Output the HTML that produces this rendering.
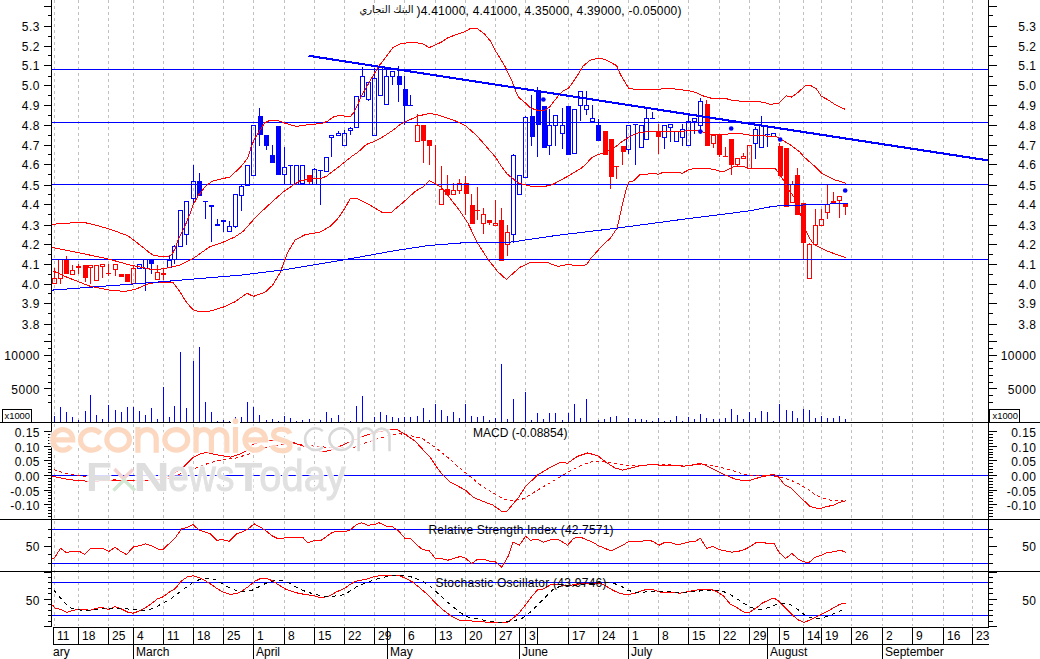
<!DOCTYPE html>
<html><head><meta charset="utf-8"><title>chart</title>
<style>
html,body{margin:0;padding:0;background:#fff;}
svg{display:block;font-family:"Liberation Sans",sans-serif;}
</style></head>
<body>
<svg width="1040" height="659" viewBox="0 0 1040 659" shape-rendering="crispEdges">
<rect x="0" y="0" width="1040" height="659" fill="#fff"/>
<g stroke="#c0c0c0" stroke-width="1" stroke-dasharray="3 3.06">
<line x1="54.5" y1="0" x2="54.5" y2="626"/>
<line x1="78.5" y1="0" x2="78.5" y2="626"/>
<line x1="108.5" y1="0" x2="108.5" y2="626"/>
<line x1="133.5" y1="0" x2="133.5" y2="626"/>
<line x1="163.5" y1="0" x2="163.5" y2="626"/>
<line x1="193.5" y1="0" x2="193.5" y2="626"/>
<line x1="223.5" y1="0" x2="223.5" y2="626"/>
<line x1="253.5" y1="0" x2="253.5" y2="626"/>
<line x1="284.5" y1="0" x2="284.5" y2="626"/>
<line x1="314.5" y1="0" x2="314.5" y2="626"/>
<line x1="344.5" y1="0" x2="344.5" y2="626"/>
<line x1="374.5" y1="0" x2="374.5" y2="626"/>
<line x1="404.5" y1="0" x2="404.5" y2="626"/>
<line x1="435.5" y1="0" x2="435.5" y2="626"/>
<line x1="465.5" y1="0" x2="465.5" y2="626"/>
<line x1="495.5" y1="0" x2="495.5" y2="626"/>
<line x1="525.5" y1="0" x2="525.5" y2="626"/>
<line x1="568.5" y1="0" x2="568.5" y2="626"/>
<line x1="598.5" y1="0" x2="598.5" y2="626"/>
<line x1="628.5" y1="0" x2="628.5" y2="626"/>
<line x1="658.5" y1="0" x2="658.5" y2="626"/>
<line x1="688.5" y1="0" x2="688.5" y2="626"/>
<line x1="719.5" y1="0" x2="719.5" y2="626"/>
<line x1="749.5" y1="0" x2="749.5" y2="626"/>
<line x1="779.5" y1="0" x2="779.5" y2="626"/>
<line x1="803.5" y1="0" x2="803.5" y2="626"/>
<line x1="821.5" y1="0" x2="821.5" y2="626"/>
<line x1="851.5" y1="0" x2="851.5" y2="626"/>
<line x1="882.5" y1="0" x2="882.5" y2="626"/>
<line x1="912.5" y1="0" x2="912.5" y2="626"/>
<line x1="943.5" y1="0" x2="943.5" y2="626"/>
<line x1="972.5" y1="0" x2="972.5" y2="626"/>
</g>
<rect x="54" y="416" width="1" height="6" fill="#0000ff"/>
<rect x="60" y="407" width="1" height="15" fill="#0000ff"/>
<rect x="66" y="412" width="1" height="10" fill="#0000ff"/>
<rect x="72" y="417" width="1" height="5" fill="#0000ff"/>
<rect x="78" y="420" width="1" height="2" fill="#0000ff"/>
<rect x="85" y="411" width="1" height="11" fill="#0000ff"/>
<rect x="90" y="395" width="1" height="27" fill="#0000ff"/>
<rect x="96" y="415" width="1" height="7" fill="#0000ff"/>
<rect x="102" y="419" width="1" height="3" fill="#0000ff"/>
<rect x="108" y="405" width="1" height="17" fill="#0000ff"/>
<rect x="115" y="410" width="1" height="12" fill="#0000ff"/>
<rect x="121" y="412" width="1" height="10" fill="#0000ff"/>
<rect x="127" y="407" width="1" height="15" fill="#0000ff"/>
<rect x="133" y="407" width="1" height="15" fill="#0000ff"/>
<rect x="139" y="411" width="1" height="11" fill="#0000ff"/>
<rect x="145" y="415" width="1" height="7" fill="#0000ff"/>
<rect x="151" y="408" width="1" height="14" fill="#0000ff"/>
<rect x="157" y="419" width="1" height="3" fill="#0000ff"/>
<rect x="163" y="387" width="1" height="35" fill="#0000ff"/>
<rect x="169" y="417" width="1" height="5" fill="#0000ff"/>
<rect x="174" y="406" width="1" height="16" fill="#0000ff"/>
<rect x="180" y="352" width="1" height="70" fill="#0000ff"/>
<rect x="186" y="408" width="1" height="14" fill="#0000ff"/>
<rect x="193" y="361" width="1" height="61" fill="#0000ff"/>
<rect x="199" y="347" width="1" height="75" fill="#0000ff"/>
<rect x="205" y="402" width="1" height="20" fill="#0000ff"/>
<rect x="211" y="412" width="1" height="10" fill="#0000ff"/>
<rect x="217" y="421" width="1" height="1" fill="#0000ff"/>
<rect x="223" y="420" width="1" height="2" fill="#0000ff"/>
<rect x="229" y="421" width="1" height="1" fill="#0000ff"/>
<rect x="235" y="417" width="1" height="5" fill="#0000ff"/>
<rect x="241" y="417" width="1" height="5" fill="#0000ff"/>
<rect x="247" y="402" width="1" height="20" fill="#0000ff"/>
<rect x="253" y="407" width="1" height="15" fill="#0000ff"/>
<rect x="259" y="415" width="1" height="7" fill="#0000ff"/>
<rect x="266" y="420" width="1" height="2" fill="#0000ff"/>
<rect x="272" y="419" width="1" height="3" fill="#0000ff"/>
<rect x="278" y="421" width="1" height="1" fill="#0000ff"/>
<rect x="284" y="416" width="1" height="6" fill="#0000ff"/>
<rect x="290" y="418" width="1" height="4" fill="#0000ff"/>
<rect x="296" y="421" width="1" height="1" fill="#0000ff"/>
<rect x="302" y="420" width="1" height="2" fill="#0000ff"/>
<rect x="309" y="419" width="1" height="3" fill="#0000ff"/>
<rect x="320" y="420" width="1" height="2" fill="#0000ff"/>
<rect x="326" y="412" width="1" height="10" fill="#0000ff"/>
<rect x="331" y="418" width="1" height="4" fill="#0000ff"/>
<rect x="338" y="415" width="1" height="7" fill="#0000ff"/>
<rect x="350" y="421" width="1" height="1" fill="#0000ff"/>
<rect x="356" y="406" width="1" height="16" fill="#0000ff"/>
<rect x="362" y="396" width="1" height="26" fill="#0000ff"/>
<rect x="374" y="417" width="1" height="5" fill="#0000ff"/>
<rect x="380" y="412" width="1" height="10" fill="#0000ff"/>
<rect x="386" y="415" width="1" height="7" fill="#0000ff"/>
<rect x="392" y="417" width="1" height="5" fill="#0000ff"/>
<rect x="398" y="418" width="1" height="4" fill="#0000ff"/>
<rect x="404" y="417" width="1" height="5" fill="#0000ff"/>
<rect x="410" y="417" width="1" height="5" fill="#0000ff"/>
<rect x="417" y="416" width="1" height="6" fill="#0000ff"/>
<rect x="423" y="408" width="1" height="14" fill="#0000ff"/>
<rect x="429" y="420" width="1" height="2" fill="#0000ff"/>
<rect x="435" y="404" width="1" height="18" fill="#0000ff"/>
<rect x="441" y="410" width="1" height="12" fill="#0000ff"/>
<rect x="447" y="416" width="1" height="6" fill="#0000ff"/>
<rect x="453" y="412" width="1" height="10" fill="#0000ff"/>
<rect x="459" y="418" width="1" height="4" fill="#0000ff"/>
<rect x="465" y="404" width="1" height="18" fill="#0000ff"/>
<rect x="471" y="416" width="1" height="6" fill="#0000ff"/>
<rect x="477" y="417" width="1" height="5" fill="#0000ff"/>
<rect x="483" y="416" width="1" height="6" fill="#0000ff"/>
<rect x="489" y="420" width="1" height="2" fill="#0000ff"/>
<rect x="495" y="418" width="1" height="4" fill="#0000ff"/>
<rect x="501" y="364" width="1" height="58" fill="#0000ff"/>
<rect x="507" y="419" width="1" height="3" fill="#0000ff"/>
<rect x="513" y="399" width="1" height="23" fill="#0000ff"/>
<rect x="525" y="392" width="1" height="30" fill="#0000ff"/>
<rect x="531" y="420" width="1" height="2" fill="#0000ff"/>
<rect x="537" y="413" width="1" height="9" fill="#0000ff"/>
<rect x="543" y="419" width="1" height="3" fill="#0000ff"/>
<rect x="549" y="413" width="1" height="9" fill="#0000ff"/>
<rect x="555" y="413" width="1" height="9" fill="#0000ff"/>
<rect x="562" y="420" width="1" height="2" fill="#0000ff"/>
<rect x="568" y="413" width="1" height="9" fill="#0000ff"/>
<rect x="574" y="404" width="1" height="18" fill="#0000ff"/>
<rect x="580" y="418" width="1" height="4" fill="#0000ff"/>
<rect x="586" y="399" width="1" height="23" fill="#0000ff"/>
<rect x="598" y="420" width="1" height="2" fill="#0000ff"/>
<rect x="604" y="419" width="1" height="3" fill="#0000ff"/>
<rect x="610" y="417" width="1" height="5" fill="#0000ff"/>
<rect x="616" y="416" width="1" height="6" fill="#0000ff"/>
<rect x="628" y="418" width="1" height="4" fill="#0000ff"/>
<rect x="635" y="419" width="1" height="3" fill="#0000ff"/>
<rect x="641" y="419" width="1" height="3" fill="#0000ff"/>
<rect x="646" y="420" width="1" height="2" fill="#0000ff"/>
<rect x="652" y="421" width="1" height="1" fill="#0000ff"/>
<rect x="658" y="418" width="1" height="4" fill="#0000ff"/>
<rect x="664" y="421" width="1" height="1" fill="#0000ff"/>
<rect x="670" y="420" width="1" height="2" fill="#0000ff"/>
<rect x="676" y="416" width="1" height="6" fill="#0000ff"/>
<rect x="682" y="421" width="1" height="1" fill="#0000ff"/>
<rect x="688" y="417" width="1" height="5" fill="#0000ff"/>
<rect x="694" y="419" width="1" height="3" fill="#0000ff"/>
<rect x="700" y="414" width="1" height="8" fill="#0000ff"/>
<rect x="706" y="418" width="1" height="4" fill="#0000ff"/>
<rect x="713" y="419" width="1" height="3" fill="#0000ff"/>
<rect x="719" y="419" width="1" height="3" fill="#0000ff"/>
<rect x="725" y="418" width="1" height="4" fill="#0000ff"/>
<rect x="731" y="409" width="1" height="13" fill="#0000ff"/>
<rect x="737" y="415" width="1" height="7" fill="#0000ff"/>
<rect x="743" y="419" width="1" height="3" fill="#0000ff"/>
<rect x="749" y="412" width="1" height="10" fill="#0000ff"/>
<rect x="755" y="418" width="1" height="4" fill="#0000ff"/>
<rect x="761" y="411" width="1" height="11" fill="#0000ff"/>
<rect x="767" y="412" width="1" height="10" fill="#0000ff"/>
<rect x="773" y="421" width="1" height="1" fill="#0000ff"/>
<rect x="779" y="404" width="1" height="18" fill="#0000ff"/>
<rect x="786" y="410" width="1" height="12" fill="#0000ff"/>
<rect x="792" y="411" width="1" height="11" fill="#0000ff"/>
<rect x="797" y="418" width="1" height="4" fill="#0000ff"/>
<rect x="803" y="409" width="1" height="13" fill="#0000ff"/>
<rect x="809" y="410" width="1" height="12" fill="#0000ff"/>
<rect x="815" y="418" width="1" height="4" fill="#0000ff"/>
<rect x="821" y="416" width="1" height="6" fill="#0000ff"/>
<rect x="827" y="418" width="1" height="4" fill="#0000ff"/>
<rect x="833" y="418" width="1" height="4" fill="#0000ff"/>
<rect x="839" y="416" width="1" height="6" fill="#0000ff"/>
<rect x="845" y="419" width="1" height="3" fill="#0000ff"/>
<rect x="54" y="268" width="1" height="11" fill="#ff0000"/>
<rect x="52.5" y="278.5" width="4" height="5" fill="none" stroke="#ff0000" stroke-width="1"/>
<rect x="60" y="278" width="1" height="6" fill="#ff0000"/>
<rect x="58.5" y="259.5" width="4" height="19" fill="none" stroke="#ff0000" stroke-width="1"/>
<rect x="66" y="256" width="1" height="18" fill="#ff0000"/>
<rect x="64" y="260" width="5" height="14" fill="#ff0000"/>
<rect x="72" y="265" width="1" height="6" fill="#ff0000"/>
<rect x="70.5" y="270.5" width="4" height="4" fill="none" stroke="#ff0000" stroke-width="1"/>
<rect x="78" y="264" width="1" height="10" fill="#ff0000"/>
<rect x="76" y="266" width="5" height="2" fill="#ff0000"/>
<rect x="85" y="265" width="1" height="17" fill="#ff0000"/>
<rect x="83" y="265" width="5" height="13" fill="#ff0000"/>
<rect x="90" y="267" width="1" height="17" fill="#ff0000"/>
<rect x="88.5" y="265.5" width="4" height="2" fill="none" stroke="#ff0000" stroke-width="1"/>
<rect x="94.5" y="265.5" width="4" height="15" fill="none" stroke="#ff0000" stroke-width="1"/>
<rect x="102" y="266" width="1" height="12" fill="#ff0000"/>
<rect x="100.5" y="264.5" width="4" height="2" fill="none" stroke="#ff0000" stroke-width="1"/>
<rect x="108" y="264" width="1" height="12" fill="#ff0000"/>
<rect x="106" y="273" width="5" height="1" fill="#ff0000"/>
<rect x="115" y="269" width="1" height="7" fill="#ff0000"/>
<rect x="113.5" y="264.5" width="4" height="5" fill="none" stroke="#ff0000" stroke-width="1"/>
<rect x="121" y="274" width="1" height="3" fill="#ff0000"/>
<rect x="119" y="274" width="5" height="3" fill="#ff0000"/>
<rect x="127" y="274" width="1" height="8" fill="#ff0000"/>
<rect x="125" y="274" width="5" height="8" fill="#ff0000"/>
<rect x="133" y="265" width="1" height="4" fill="#ff0000"/>
<rect x="131.5" y="268.5" width="4" height="15" fill="none" stroke="#ff0000" stroke-width="1"/>
<rect x="137.5" y="264.5" width="4" height="4" fill="none" stroke="#0000ff" stroke-width="1"/>
<rect x="145" y="268" width="1" height="23" fill="#0000ff"/>
<rect x="143.5" y="259.5" width="4" height="9" fill="none" stroke="#0000ff" stroke-width="1"/>
<rect x="151" y="260" width="1" height="14" fill="#0000ff"/>
<rect x="149" y="260" width="5" height="4" fill="#0000ff"/>
<rect x="157" y="265" width="1" height="8" fill="#ff0000"/>
<rect x="155.5" y="272.5" width="4" height="7" fill="none" stroke="#ff0000" stroke-width="1"/>
<rect x="163" y="268" width="1" height="12" fill="#ff0000"/>
<rect x="161" y="273" width="5" height="2" fill="#ff0000"/>
<rect x="169" y="256" width="1" height="5" fill="#0000ff"/>
<rect x="167.5" y="260.5" width="4" height="7" fill="none" stroke="#0000ff" stroke-width="1"/>
<rect x="174" y="245" width="1" height="2" fill="#0000ff"/>
<rect x="174" y="259" width="1" height="5" fill="#0000ff"/>
<rect x="172.5" y="246.5" width="4" height="13" fill="none" stroke="#0000ff" stroke-width="1"/>
<rect x="178.5" y="210.5" width="4" height="36" fill="none" stroke="#0000ff" stroke-width="1"/>
<rect x="186" y="234" width="1" height="11" fill="#0000ff"/>
<rect x="184.5" y="201.5" width="4" height="33" fill="none" stroke="#0000ff" stroke-width="1"/>
<rect x="193" y="165" width="1" height="17" fill="#0000ff"/>
<rect x="193" y="198" width="1" height="7" fill="#0000ff"/>
<rect x="191.5" y="181.5" width="4" height="17" fill="none" stroke="#0000ff" stroke-width="1"/>
<rect x="199" y="173" width="1" height="23" fill="#0000ff"/>
<rect x="197" y="181" width="5" height="15" fill="#0000ff"/>
<rect x="205" y="201" width="1" height="18" fill="#0000ff"/>
<rect x="203" y="201" width="5" height="1" fill="#0000ff"/>
<rect x="211" y="205" width="1" height="37" fill="#0000ff"/>
<rect x="209" y="205" width="5" height="2" fill="#0000ff"/>
<rect x="217" y="219" width="1" height="7" fill="#0000ff"/>
<rect x="215" y="224" width="5" height="2" fill="#0000ff"/>
<rect x="223" y="220" width="1" height="12" fill="#0000ff"/>
<rect x="221" y="220" width="5" height="2" fill="#0000ff"/>
<rect x="229" y="221" width="1" height="6" fill="#0000ff"/>
<rect x="227.5" y="226.5" width="4" height="5" fill="none" stroke="#0000ff" stroke-width="1"/>
<rect x="235" y="226" width="1" height="2" fill="#0000ff"/>
<rect x="233.5" y="194.5" width="4" height="32" fill="none" stroke="#0000ff" stroke-width="1"/>
<rect x="241" y="184" width="1" height="3" fill="#0000ff"/>
<rect x="241" y="195" width="1" height="16" fill="#0000ff"/>
<rect x="239.5" y="186.5" width="4" height="9" fill="none" stroke="#0000ff" stroke-width="1"/>
<rect x="245.5" y="165.5" width="4" height="20" fill="none" stroke="#0000ff" stroke-width="1"/>
<rect x="251.5" y="125.5" width="4" height="50" fill="none" stroke="#0000ff" stroke-width="1"/>
<rect x="259" y="108" width="1" height="38" fill="#0000ff"/>
<rect x="258" y="116" width="5" height="19" fill="#0000ff"/>
<rect x="266" y="135" width="1" height="15" fill="#0000ff"/>
<rect x="264" y="135" width="5" height="11" fill="#0000ff"/>
<rect x="272" y="145" width="1" height="18" fill="#0000ff"/>
<rect x="270" y="155" width="5" height="8" fill="#0000ff"/>
<rect x="278" y="126" width="1" height="49" fill="#0000ff"/>
<rect x="276" y="126" width="5" height="49" fill="#0000ff"/>
<rect x="284" y="147" width="1" height="21" fill="#0000ff"/>
<rect x="284" y="174" width="1" height="11" fill="#0000ff"/>
<rect x="282.5" y="167.5" width="4" height="7" fill="none" stroke="#0000ff" stroke-width="1"/>
<rect x="290" y="165" width="1" height="20" fill="#0000ff"/>
<rect x="288" y="165" width="5" height="1" fill="#0000ff"/>
<rect x="294.5" y="165.5" width="4" height="19" fill="none" stroke="#0000ff" stroke-width="1"/>
<rect x="300.5" y="165.5" width="4" height="18" fill="none" stroke="#0000ff" stroke-width="1"/>
<rect x="309" y="175" width="1" height="10" fill="#ff0000"/>
<rect x="307" y="175" width="5" height="7" fill="#ff0000"/>
<rect x="314" y="168" width="1" height="2" fill="#0000ff"/>
<rect x="312.5" y="169.5" width="4" height="15" fill="none" stroke="#0000ff" stroke-width="1"/>
<rect x="320" y="170" width="1" height="35" fill="#0000ff"/>
<rect x="318" y="170" width="5" height="1" fill="#0000ff"/>
<rect x="324.5" y="157.5" width="4" height="14" fill="none" stroke="#0000ff" stroke-width="1"/>
<rect x="331" y="137" width="1" height="20" fill="#0000ff"/>
<rect x="329.5" y="135.5" width="4" height="2" fill="none" stroke="#0000ff" stroke-width="1"/>
<rect x="338" y="131" width="1" height="3" fill="#0000ff"/>
<rect x="336.5" y="133.5" width="4" height="2" fill="none" stroke="#0000ff" stroke-width="1"/>
<rect x="344" y="130" width="1" height="4" fill="#0000ff"/>
<rect x="342.5" y="133.5" width="4" height="12" fill="none" stroke="#0000ff" stroke-width="1"/>
<rect x="350" y="127" width="1" height="2" fill="#0000ff"/>
<rect x="350" y="130" width="1" height="5" fill="#0000ff"/>
<rect x="348.5" y="128.5" width="4" height="2" fill="none" stroke="#0000ff" stroke-width="1"/>
<rect x="354.5" y="96.5" width="4" height="31" fill="none" stroke="#0000ff" stroke-width="1"/>
<rect x="362" y="67" width="1" height="10" fill="#0000ff"/>
<rect x="360.5" y="76.5" width="4" height="20" fill="none" stroke="#0000ff" stroke-width="1"/>
<rect x="368" y="99" width="1" height="2" fill="#0000ff"/>
<rect x="366.5" y="82.5" width="4" height="17" fill="none" stroke="#0000ff" stroke-width="1"/>
<rect x="374" y="68" width="1" height="11" fill="#0000ff"/>
<rect x="372.5" y="78.5" width="4" height="57" fill="none" stroke="#0000ff" stroke-width="1"/>
<rect x="378.5" y="67.5" width="4" height="28" fill="none" stroke="#0000ff" stroke-width="1"/>
<rect x="386" y="68" width="1" height="9" fill="#0000ff"/>
<rect x="384.5" y="76.5" width="4" height="28" fill="none" stroke="#0000ff" stroke-width="1"/>
<rect x="392" y="76" width="1" height="9" fill="#0000ff"/>
<rect x="390.5" y="71.5" width="4" height="5" fill="none" stroke="#0000ff" stroke-width="1"/>
<rect x="398" y="66" width="1" height="36" fill="#0000ff"/>
<rect x="397" y="76" width="5" height="9" fill="#0000ff"/>
<rect x="404" y="76" width="1" height="49" fill="#0000ff"/>
<rect x="403" y="89" width="5" height="17" fill="#0000ff"/>
<rect x="410" y="95" width="1" height="11" fill="#0000ff"/>
<rect x="408" y="105" width="5" height="1" fill="#0000ff"/>
<rect x="417" y="114" width="1" height="12" fill="#ff0000"/>
<rect x="415.5" y="125.5" width="4" height="16" fill="none" stroke="#ff0000" stroke-width="1"/>
<rect x="423" y="125" width="1" height="38" fill="#ff0000"/>
<rect x="421" y="125" width="5" height="16" fill="#ff0000"/>
<rect x="429" y="140" width="1" height="25" fill="#ff0000"/>
<rect x="427" y="140" width="5" height="6" fill="#ff0000"/>
<rect x="435" y="145" width="1" height="40" fill="#ff0000"/>
<rect x="433" y="184" width="5" height="1" fill="#ff0000"/>
<rect x="441" y="166" width="1" height="24" fill="#ff0000"/>
<rect x="439.5" y="189.5" width="4" height="15" fill="none" stroke="#ff0000" stroke-width="1"/>
<rect x="447" y="175" width="1" height="20" fill="#ff0000"/>
<rect x="445" y="189" width="5" height="6" fill="#ff0000"/>
<rect x="453" y="183" width="1" height="8" fill="#ff0000"/>
<rect x="451.5" y="190.5" width="4" height="4" fill="none" stroke="#ff0000" stroke-width="1"/>
<rect x="459" y="179" width="1" height="5" fill="#ff0000"/>
<rect x="459" y="190" width="1" height="4" fill="#ff0000"/>
<rect x="457.5" y="183.5" width="4" height="7" fill="none" stroke="#ff0000" stroke-width="1"/>
<rect x="465" y="176" width="1" height="39" fill="#ff0000"/>
<rect x="464" y="183" width="5" height="11" fill="#ff0000"/>
<rect x="471" y="194" width="1" height="30" fill="#ff0000"/>
<rect x="470" y="205" width="5" height="19" fill="#ff0000"/>
<rect x="477" y="187" width="1" height="33" fill="#ff0000"/>
<rect x="475" y="210" width="5" height="1" fill="#ff0000"/>
<rect x="483" y="208" width="1" height="7" fill="#ff0000"/>
<rect x="483" y="223" width="1" height="11" fill="#ff0000"/>
<rect x="481.5" y="214.5" width="4" height="9" fill="none" stroke="#ff0000" stroke-width="1"/>
<rect x="489" y="220" width="1" height="5" fill="#ff0000"/>
<rect x="487" y="220" width="5" height="3" fill="#ff0000"/>
<rect x="495" y="200" width="1" height="24" fill="#ff0000"/>
<rect x="493.5" y="223.5" width="4" height="2" fill="none" stroke="#ff0000" stroke-width="1"/>
<rect x="501" y="208" width="1" height="53" fill="#ff0000"/>
<rect x="499" y="220" width="5" height="41" fill="#ff0000"/>
<rect x="507" y="225" width="1" height="8" fill="#ff0000"/>
<rect x="507" y="244" width="1" height="12" fill="#ff0000"/>
<rect x="505.5" y="232.5" width="4" height="12" fill="none" stroke="#ff0000" stroke-width="1"/>
<rect x="513" y="154" width="1" height="2" fill="#0000ff"/>
<rect x="513" y="234" width="1" height="9" fill="#0000ff"/>
<rect x="511.5" y="155.5" width="4" height="79" fill="none" stroke="#0000ff" stroke-width="1"/>
<rect x="517.5" y="175.5" width="4" height="19" fill="none" stroke="#0000ff" stroke-width="1"/>
<rect x="525" y="116" width="1" height="2" fill="#0000ff"/>
<rect x="523.5" y="117.5" width="4" height="60" fill="none" stroke="#0000ff" stroke-width="1"/>
<rect x="531" y="95" width="1" height="51" fill="#0000ff"/>
<rect x="530" y="116" width="5" height="21" fill="#0000ff"/>
<rect x="537" y="87" width="1" height="70" fill="#0000ff"/>
<rect x="536" y="90" width="5" height="35" fill="#0000ff"/>
<rect x="543" y="106" width="1" height="42" fill="#0000ff"/>
<rect x="542" y="106" width="5" height="42" fill="#0000ff"/>
<rect x="549" y="109" width="1" height="17" fill="#0000ff"/>
<rect x="549" y="145" width="1" height="10" fill="#0000ff"/>
<rect x="547.5" y="125.5" width="4" height="20" fill="none" stroke="#0000ff" stroke-width="1"/>
<rect x="555" y="125" width="1" height="21" fill="#0000ff"/>
<rect x="553.5" y="115.5" width="4" height="10" fill="none" stroke="#0000ff" stroke-width="1"/>
<rect x="562" y="108" width="1" height="18" fill="#0000ff"/>
<rect x="562" y="133" width="1" height="16" fill="#0000ff"/>
<rect x="560.5" y="125.5" width="4" height="8" fill="none" stroke="#0000ff" stroke-width="1"/>
<rect x="568" y="106" width="1" height="49" fill="#0000ff"/>
<rect x="566" y="106" width="5" height="49" fill="#0000ff"/>
<rect x="572.5" y="109.5" width="4" height="44" fill="none" stroke="#0000ff" stroke-width="1"/>
<rect x="580" y="105" width="1" height="16" fill="#0000ff"/>
<rect x="578.5" y="91.5" width="4" height="14" fill="none" stroke="#0000ff" stroke-width="1"/>
<rect x="586" y="91" width="1" height="15" fill="#0000ff"/>
<rect x="586" y="109" width="1" height="6" fill="#0000ff"/>
<rect x="584.5" y="105.5" width="4" height="4" fill="none" stroke="#0000ff" stroke-width="1"/>
<rect x="592" y="105" width="1" height="14" fill="#0000ff"/>
<rect x="590.5" y="118.5" width="4" height="3" fill="none" stroke="#0000ff" stroke-width="1"/>
<rect x="598" y="119" width="1" height="22" fill="#0000ff"/>
<rect x="596" y="125" width="5" height="16" fill="#0000ff"/>
<rect x="604" y="131" width="1" height="24" fill="#ff0000"/>
<rect x="603" y="131" width="5" height="24" fill="#ff0000"/>
<rect x="610" y="139" width="1" height="50" fill="#ff0000"/>
<rect x="609" y="139" width="5" height="38" fill="#ff0000"/>
<rect x="616" y="166" width="1" height="13" fill="#ff0000"/>
<rect x="614" y="166" width="5" height="1" fill="#ff0000"/>
<rect x="622" y="146" width="1" height="19" fill="#ff0000"/>
<rect x="621" y="146" width="5" height="6" fill="#ff0000"/>
<rect x="628" y="149" width="1" height="5" fill="#0000ff"/>
<rect x="626.5" y="125.5" width="4" height="24" fill="none" stroke="#0000ff" stroke-width="1"/>
<rect x="635" y="124" width="1" height="41" fill="#0000ff"/>
<rect x="633" y="124" width="5" height="1" fill="#0000ff"/>
<rect x="639.5" y="125.5" width="4" height="22" fill="none" stroke="#0000ff" stroke-width="1"/>
<rect x="646" y="108" width="1" height="11" fill="#0000ff"/>
<rect x="644.5" y="118.5" width="4" height="21" fill="none" stroke="#0000ff" stroke-width="1"/>
<rect x="652" y="112" width="1" height="7" fill="#0000ff"/>
<rect x="650" y="118" width="5" height="1" fill="#0000ff"/>
<rect x="658" y="124" width="1" height="30" fill="#ff0000"/>
<rect x="656" y="131" width="5" height="6" fill="#ff0000"/>
<rect x="664" y="137" width="1" height="12" fill="#0000ff"/>
<rect x="662.5" y="125.5" width="4" height="12" fill="none" stroke="#0000ff" stroke-width="1"/>
<rect x="670" y="127" width="1" height="15" fill="#0000ff"/>
<rect x="668.5" y="124.5" width="4" height="3" fill="none" stroke="#0000ff" stroke-width="1"/>
<rect x="674.5" y="131.5" width="4" height="10" fill="none" stroke="#0000ff" stroke-width="1"/>
<rect x="682" y="124" width="1" height="6" fill="#0000ff"/>
<rect x="682" y="137" width="1" height="9" fill="#0000ff"/>
<rect x="680.5" y="129.5" width="4" height="8" fill="none" stroke="#0000ff" stroke-width="1"/>
<rect x="688" y="115" width="1" height="7" fill="#0000ff"/>
<rect x="686.5" y="121.5" width="4" height="24" fill="none" stroke="#0000ff" stroke-width="1"/>
<rect x="694" y="121" width="1" height="13" fill="#0000ff"/>
<rect x="692.5" y="118.5" width="4" height="3" fill="none" stroke="#0000ff" stroke-width="1"/>
<rect x="700" y="98" width="1" height="4" fill="#0000ff"/>
<rect x="700" y="125" width="1" height="5" fill="#0000ff"/>
<rect x="698.5" y="101.5" width="4" height="24" fill="none" stroke="#0000ff" stroke-width="1"/>
<rect x="706" y="100" width="1" height="46" fill="#ff0000"/>
<rect x="705" y="104" width="5" height="42" fill="#ff0000"/>
<rect x="713" y="143" width="1" height="5" fill="#ff0000"/>
<rect x="711.5" y="135.5" width="4" height="8" fill="none" stroke="#ff0000" stroke-width="1"/>
<rect x="719" y="134" width="1" height="23" fill="#ff0000"/>
<rect x="717" y="134" width="5" height="21" fill="#ff0000"/>
<rect x="725" y="147" width="1" height="10" fill="#ff0000"/>
<rect x="723" y="156" width="5" height="1" fill="#ff0000"/>
<rect x="731" y="139" width="1" height="36" fill="#ff0000"/>
<rect x="729" y="139" width="5" height="26" fill="#ff0000"/>
<rect x="737" y="164" width="1" height="3" fill="#ff0000"/>
<rect x="735.5" y="158.5" width="4" height="6" fill="none" stroke="#ff0000" stroke-width="1"/>
<rect x="743" y="153" width="1" height="4" fill="#ff0000"/>
<rect x="741.5" y="156.5" width="4" height="2" fill="none" stroke="#ff0000" stroke-width="1"/>
<rect x="747.5" y="145.5" width="4" height="23" fill="none" stroke="#ff0000" stroke-width="1"/>
<rect x="755" y="127" width="1" height="3" fill="#0000ff"/>
<rect x="755" y="143" width="1" height="16" fill="#0000ff"/>
<rect x="753.5" y="129.5" width="4" height="14" fill="none" stroke="#0000ff" stroke-width="1"/>
<rect x="761" y="116" width="1" height="10" fill="#0000ff"/>
<rect x="759.5" y="125.5" width="4" height="22" fill="none" stroke="#0000ff" stroke-width="1"/>
<rect x="767" y="127" width="1" height="20" fill="#0000ff"/>
<rect x="765" y="134" width="5" height="1" fill="#0000ff"/>
<rect x="771.5" y="133.5" width="4" height="3" fill="none" stroke="#0000ff" stroke-width="1"/>
<rect x="779" y="143" width="1" height="33" fill="#ff0000"/>
<rect x="778" y="146" width="5" height="30" fill="#ff0000"/>
<rect x="786" y="148" width="1" height="59" fill="#ff0000"/>
<rect x="784" y="148" width="5" height="59" fill="#ff0000"/>
<rect x="792" y="181" width="1" height="4" fill="#ff0000"/>
<rect x="790.5" y="184.5" width="4" height="18" fill="none" stroke="#ff0000" stroke-width="1"/>
<rect x="797" y="168" width="1" height="47" fill="#ff0000"/>
<rect x="795" y="175" width="5" height="40" fill="#ff0000"/>
<rect x="803" y="203" width="1" height="57" fill="#ff0000"/>
<rect x="801" y="203" width="5" height="40" fill="#ff0000"/>
<rect x="809" y="243" width="1" height="2" fill="#ff0000"/>
<rect x="807.5" y="244.5" width="4" height="34" fill="none" stroke="#ff0000" stroke-width="1"/>
<rect x="815" y="209" width="1" height="17" fill="#ff0000"/>
<rect x="813.5" y="225.5" width="4" height="19" fill="none" stroke="#ff0000" stroke-width="1"/>
<rect x="821" y="209" width="1" height="11" fill="#ff0000"/>
<rect x="819.5" y="219.5" width="4" height="6" fill="none" stroke="#ff0000" stroke-width="1"/>
<rect x="827" y="184" width="1" height="21" fill="#ff0000"/>
<rect x="827" y="212" width="1" height="7" fill="#ff0000"/>
<rect x="825.5" y="204.5" width="4" height="8" fill="none" stroke="#ff0000" stroke-width="1"/>
<rect x="833" y="192" width="1" height="12" fill="#ff0000"/>
<rect x="831" y="201" width="5" height="3" fill="#ff0000"/>
<rect x="839" y="200" width="1" height="18" fill="#ff0000"/>
<rect x="837.5" y="196.5" width="4" height="4" fill="none" stroke="#ff0000" stroke-width="1"/>
<rect x="845" y="203" width="1" height="12" fill="#ff0000"/>
<rect x="843" y="203" width="5" height="4" fill="#ff0000"/>
<rect x="52" y="69" width="936" height="1" fill="#0000ff"/>
<rect x="52" y="122" width="936" height="1" fill="#0000ff"/>
<rect x="52" y="184" width="936" height="1" fill="#0000ff"/>
<rect x="52" y="259" width="936" height="1" fill="#0000ff"/>
<polyline points="51.9,224.3 82.7,222.1 95.0,225.0 108.8,228.8 127.5,235.6 140.0,245.0 150.0,253.1 153.8,255.6 160.0,256.2 168.8,256.2 171.9,254.4 175.0,248.8 177.5,241.2 179.4,237.5 183.8,228.8 189.9,214.0 193.5,204.0 198.6,195.2 205.4,186.4 212.1,181.3 221.5,178.8 229.6,177.2 240.4,167.3 247.8,157.9 251.1,147.1 254.5,139.0 259.2,131.6 264.6,122.9 268.6,120.9 275.4,120.2 280.7,121.5 286.1,123.6 296.2,126.4 308.5,124.7 321.9,123.4 327.3,121.3 334.0,116.6 340.8,115.3 346.1,116.6 350.2,117.0 354.2,111.9 362.3,94.4 370.4,80.3 378.4,66.8 386.5,56.1 392.9,47.6 400.4,43.8 412.9,42.1 423.0,43.8 429.2,47.6 440.5,42.6 448.0,37.6 465.6,31.3 470.6,28.3 476.8,28.3 484.4,33.8 490.6,41.3 495.0,50.0 505.0,66.4 512.6,82.6 516.0,92.0 518.5,97.2 522.5,100.6 526.5,103.9 530.6,108.0 537.3,110.3 544.0,110.7 549.4,107.3 553.5,101.9 558.8,95.2 562.9,90.9 568.3,88.5 572.3,83.1 577.7,75.0 582.8,66.4 590.3,60.1 599.0,58.1 605.3,59.6 616.6,65.6 620.7,75.0 624.8,81.7 628.8,88.5 634.2,89.1 642.9,89.7 655.4,89.7 668.0,88.2 680.5,89.7 693.0,91.4 703.5,96.0 711.5,98.3 726.3,98.7 734.4,100.8 749.2,101.4 762.7,102.1 770.8,104.4 778.8,103.0 786.4,95.9 791.4,97.2 797.7,92.7 805.2,85.9 810.2,85.2 816.5,88.9 821.5,96.4 827.8,99.7 835.3,104.7 845.3,109.4" fill="none" stroke="#ff0000" stroke-width="1" />
<polyline points="52.5,247.5 80.0,253.0 107.5,258.8 130.0,265.0 145.0,268.0 153.8,270.0 165.0,268.5 180.0,265.0 183.8,263.0 193.3,258.4 209.4,247.0 222.9,242.3 235.0,236.9 243.0,231.5 252.5,220.8 261.9,211.3 272.7,201.2 283.4,191.8 294.2,184.4 299.6,181.0 308.5,179.2 320.6,178.6 326.6,176.1 335.4,169.4 344.8,162.0 351.5,156.6 358.3,151.9 366.3,144.5 374.4,141.4 382.5,137.1 391.9,131.0 400.0,124.7 409.4,120.0 417.5,116.2 424.2,114.6 429.6,113.3 435.0,114.3 440.5,115.7 453.0,119.9 465.2,125.4 477.3,136.2 485.4,145.6 494.8,156.3 501.5,166.4 506.9,173.8 513.6,179.2 519.0,183.3 527.1,185.3 531.1,186.2 544.6,186.5 552.7,184.5 567.7,176.3 580.3,168.8 585.3,165.0 591.5,157.8 597.8,154.5 603.0,153.2 615.2,147.1 621.9,141.7 630.0,136.3 639.4,132.6 648.8,131.6 662.3,131.6 675.8,131.6 689.2,130.7 698.6,130.7 706.7,133.0 712.1,134.7 724.2,134.7 731.7,133.3 741.1,133.7 749.2,135.1 760.0,135.5 770.8,136.4 777.5,137.1 782.9,140.5 791.1,145.4 799.2,151.4 804.6,157.5 810.0,162.2 815.4,166.9 821.4,173.0 827.5,176.3 834.2,179.7 840.9,181.5 845.6,183.3" fill="none" stroke="#ff0000" stroke-width="1" />
<polyline points="52.5,270.6 66.2,276.9 90.0,286.2 108.8,290.0 125.0,291.5 135.0,289.4 148.8,283.8 155.0,282.5 172.9,282.2 180.5,292.7 186.7,302.7 193.0,309.7 200.5,312.0 210.5,311.0 223.1,307.2 235.6,301.5 246.9,293.2 253.5,296.4 265.1,292.2 272.6,285.2 280.1,272.7 287.6,252.6 295.1,240.1 305.2,234.6 320.2,232.1 330.2,226.3 337.7,218.8 345.3,207.6 350.3,198.3 356.5,198.3 367.8,203.8 381.6,212.1 391.6,212.1 402.9,202.6 415.4,191.3 423.5,186.6 429.5,180.6 435.6,183.9 441.6,187.3 447.7,195.0 459.8,211.0 467.9,223.1 477.3,242.6 485.4,255.4 488.1,259.4 497.5,271.4 506.3,279.4 520.1,267.2 530.1,262.6 547.7,262.6 557.7,266.4 567.7,264.6 580.3,265.9 586.5,264.6 591.5,257.6 602.8,245.1 610.5,238.0 617.2,228.1 621.9,206.5 626.0,190.4 628.4,182.3 634.0,180.7 640.1,174.5 646.1,174.2 654.2,173.1 658.3,174.5 662.3,172.6 675.8,172.6 682.5,173.1 689.2,169.5 695.9,168.2 706.7,168.2 716.1,169.9 720.2,171.3 724.2,171.3 729.6,168.6 735.0,166.2 743.8,166.4 749.2,168.5 775.0,168.3 779.0,173.6 784.4,181.7 789.8,191.1 794.5,197.9 800.0,213.0 805.8,230.7 809.8,238.4 813.8,244.4 819.2,247.1 827.3,251.1 835.4,254.1 845.9,257.6" fill="none" stroke="#ff0000" stroke-width="1" />
<polyline points="51.0,290.2 150.3,282.7 240.0,275.2 285.1,269.7 345.3,259.6 390.4,251.4 428.0,245.6 465.6,242.6 504.0,242.4 512.6,241.9 555.2,235.6 617.3,228.1 680.5,219.6 720.0,214.6 750.0,210.8 773.6,206.2 780.0,205.8 815.0,204.6 847.7,203.3" fill="none" stroke="#0000ff" stroke-width="1" />
<line x1="308.5" y1="55.8" x2="988" y2="160.4" stroke="#0000ff" stroke-width="2.1"/>
<circle cx="543.4" cy="99.5" r="2.3" fill="#0000ff" shape-rendering="auto"/>
<circle cx="700.4" cy="131.6" r="2.3" fill="#0000ff" shape-rendering="auto"/>
<circle cx="731.2" cy="128.5" r="2.3" fill="#0000ff" shape-rendering="auto"/>
<circle cx="780.2" cy="139.5" r="2.3" fill="#0000ff" shape-rendering="auto"/>
<circle cx="845.2" cy="190.5" r="2.3" fill="#0000ff" shape-rendering="auto"/>
<rect x="52" y="475" width="936" height="1" fill="#0000ff"/>
<polyline points="52.5,476.3 65.0,478.8 77.6,480.6 90.1,481.3 105.2,480.8 120.2,480.8 135.2,480.8 147.8,480.1 160.3,479.6 170.0,476.0 182.9,467.6 192.9,457.6 200.4,453.8 206.7,452.5 215.4,454.6 230.5,457.1 240.5,453.8 245.5,451.3 251.8,445.0 262.0,441.0 275.0,440.0 290.0,441.3 300.0,445.0 312.6,449.5 322.6,452.0 331.4,450.0 345.0,444.0 361.4,437.0 370.2,433.8 390.3,429.3 397.8,430.0 405.3,434.5 415.3,441.3 422.8,449.5 430.4,457.6 437.9,468.8 442.9,475.1 450.4,482.1 465.4,490.1 473.0,497.1 483.0,501.4 493.0,505.1 501.8,511.4 506.8,511.4 513.1,503.9 519.3,496.4 525.6,486.3 538.1,474.6 550.0,467.6 560.0,462.6 567.6,463.1 577.6,456.3 587.6,453.0 597.6,455.6 606.4,462.6 615.2,468.1 622.7,470.1 630.2,468.1 640.3,465.8 650.3,464.6 660.3,465.1 675.3,465.1 682.9,466.3 692.9,465.1 700.4,463.3 707.9,466.3 715.4,470.1 725.5,475.1 735.5,479.3 743.0,480.6 750.5,480.1 760.6,477.1 773.1,474.3 778.1,476.3 784.4,484.6 790.6,487.6 795.6,492.6 803.8,500.6 810.1,506.4 816.3,508.1 821.4,508.1 827.6,506.4 833.9,505.1 840.2,502.1 845.7,500.9" fill="none" stroke="#ff0000" stroke-width="1" />
<polyline points="53.8,469.6 60.0,471.8 72.6,474.6 85.1,476.3 102.7,478.8 117.7,480.1 132.7,480.8 147.8,480.1 160.3,479.6 169.0,478.1 176.6,475.1 187.9,471.3 197.9,467.1 210.4,462.6 223.0,459.6 235.5,458.1 245.5,455.1 253.0,452.5 265.0,448.0 280.0,444.5 295.0,443.8 305.0,445.0 315.0,446.3 330.0,447.5 343.9,448.0 355.2,447.0 365.2,443.0 377.7,438.8 390.3,435.0 400.3,433.8 410.3,435.5 422.8,438.8 435.4,447.5 447.9,457.6 460.4,468.8 469.2,475.6 480.5,485.1 493.0,492.6 503.0,498.9 513.1,500.6 523.1,498.9 535.6,491.4 552.5,481.3 565.1,473.8 577.6,467.1 590.1,462.1 600.2,461.3 612.7,462.6 625.2,465.6 640.3,465.8 652.8,464.6 675.3,465.1 690.4,465.1 702.9,464.3 715.4,466.3 728.0,469.3 740.5,473.1 748.0,475.1 765.6,475.6 778.1,476.3 790.6,480.1 800.0,484.6 807.6,488.9 815.1,494.6 822.6,498.1 830.1,500.1 840.2,500.6 845.7,501.4" fill="none" stroke="#ff0000" stroke-width="1" stroke-dasharray="3 3" />
<rect x="52" y="529" width="936" height="1" fill="#0000ff"/>
<rect x="52" y="563" width="936" height="1" fill="#0000ff"/>
<polyline points="52.5,558.5 54.5,557.7 60.6,548.4 66.3,552.7 72.6,551.0 78.8,551.0 84.6,554.5 90.9,548.2 102.7,548.2 108.9,551.4 115.2,547.2 120.7,551.4 126.5,554.5 134.0,546.4 139.0,545.9 145.3,543.9 151.5,545.9 157.8,548.9 162.8,549.7 175.3,537.7 181.6,528.9 187.9,527.2 192.9,524.4 199.1,530.2 205.4,532.2 210.4,533.9 216.7,540.2 223.0,539.7 229.2,541.4 236.7,533.9 241.8,532.2 248.0,528.9 254.3,523.9 260.5,527.2 266.8,531.4 271.8,535.7 276.8,538.2 283.1,538.2 286.9,537.2 302.5,537.2 308.0,542.7 315.1,540.2 321.3,540.2 332.6,532.2 340.1,531.4 348.9,530.9 356.4,524.7 361.4,522.7 367.7,525.2 374.0,524.7 379.0,522.7 386.5,526.4 392.8,526.9 399.0,531.4 404.8,538.2 410.3,538.2 416.6,544.7 422.8,549.7 429.1,550.7 435.4,558.5 442.9,559.0 447.9,560.2 454.2,558.2 460.4,556.5 465.4,558.2 471.7,563.5 478.0,559.0 484.2,559.5 490.5,561.5 495.5,562.0 501.8,567.2 508.0,556.5 513.1,542.2 519.3,545.2 525.6,536.4 530.6,540.2 538.1,539.4 543.1,542.2 551.3,539.7 558.8,539.7 567.6,545.2 573.8,538.2 580.1,536.9 586.4,539.7 592.6,542.2 598.9,545.9 605.2,548.4 610.9,550.9 616.4,548.4 622.7,545.2 629.0,541.4 640.3,541.4 649.0,540.2 652.8,541.4 659.0,545.2 665.3,542.2 670.3,542.2 676.6,544.7 681.6,543.9 689.1,541.9 695.4,541.4 700.4,538.2 706.7,548.4 712.9,546.4 719.2,549.7 725.5,550.9 731.7,552.2 738.0,551.4 744.3,549.7 750.5,546.4 756.8,542.2 763.1,542.2 768.1,543.9 774.3,543.9 779.3,552.7 785.6,558.5 791.9,553.5 798.1,559.0 802.6,561.5 808.8,562.7 815.1,557.2 821.4,555.2 827.6,552.2 833.9,551.9 840.2,550.2 845.7,552.2" fill="none" stroke="#ff0000" stroke-width="1" />
<rect x="52" y="582" width="936" height="1" fill="#0000ff"/>
<rect x="52" y="615" width="936" height="1" fill="#0000ff"/>
<polyline points="52.5,605.0 55.0,608.0 61.2,609.5 67.0,612.5 72.5,610.5 77.5,609.5 85.0,609.5 90.0,610.5 96.2,608.2 102.5,607.5 108.8,609.5 115.0,606.5 121.2,608.8 127.5,612.0 133.0,613.2 138.8,611.2 145.0,608.0 151.2,603.8 157.5,598.8 163.0,596.8 168.8,592.5 175.0,588.8 181.2,581.2 187.5,576.8 193.0,575.8 198.8,577.5 205.0,580.5 211.2,584.5 217.5,588.8 223.8,592.5 230.0,594.2 236.2,593.8 242.5,590.8 248.8,586.2 255.0,581.2 261.2,578.2 266.2,578.2 272.5,580.8 278.8,585.0 285.0,588.8 291.2,591.2 297.5,593.0 305.0,594.5 313.8,595.5 321.2,598.0 328.8,596.2 336.2,592.0 343.8,588.8 350.0,584.5 355.5,581.2 365.0,579.5 373.8,576.8 381.2,575.5 390.0,575.5 398.8,575.5 405.0,578.0 412.5,582.0 420.0,588.0 427.5,594.5 435.0,602.5 442.5,609.5 451.2,616.2 458.8,620.0 465.0,620.5 475.0,621.2 485.0,622.0 495.0,622.5 507.5,622.5 513.8,617.5 520.0,612.0 526.2,603.8 532.5,595.5 537.5,590.0 542.5,589.2 551.2,584.5 557.5,584.5 565.0,585.5 572.5,585.0 580.0,583.8 590.0,583.0 600.0,583.0 606.2,586.2 612.5,590.0 618.8,593.0 625.0,594.5 633.8,593.8 640.0,591.2 647.5,589.2 653.8,590.0 660.0,592.0 670.0,592.0 680.0,593.2 690.0,591.2 700.0,589.5 711.2,589.5 717.5,592.0 723.8,596.2 730.0,603.8 737.5,608.0 743.8,612.0 750.0,612.0 756.2,608.0 762.5,603.0 768.8,600.0 773.8,598.0 778.8,601.2 785.0,607.5 791.2,613.8 797.5,619.5 803.8,622.5 810.0,620.0 816.2,617.0 822.5,613.8 828.8,610.5 835.0,607.0 840.0,604.2 845.5,603.2" fill="none" stroke="#ff0000" stroke-width="1" />
<polyline points="53.8,590.0 60.0,597.5 66.2,604.5 72.5,608.8 80.0,610.0 90.0,610.5 97.5,609.2 105.0,608.2 115.0,608.0 125.0,608.8 133.8,609.5 142.5,610.5 150.0,609.5 157.5,606.2 165.0,602.0 172.5,597.5 180.0,592.0 187.5,586.2 193.8,582.0 201.2,578.8 208.8,578.0 215.0,579.5 222.5,583.8 230.0,588.0 237.5,591.2 245.0,592.0 252.5,590.0 260.0,586.2 267.5,582.5 275.0,580.5 282.5,580.8 290.0,583.5 297.5,588.0 305.0,591.2 315.0,594.5 325.0,596.2 333.8,596.2 342.5,595.0 350.0,591.2 357.5,586.2 365.0,583.0 373.8,580.0 381.2,577.5 390.0,576.2 398.8,575.5 406.2,575.5 415.0,578.0 422.5,581.2 430.0,586.2 437.5,593.0 445.0,600.0 452.5,606.2 460.0,612.5 467.5,617.0 475.0,618.2 485.0,620.5 495.0,622.0 505.0,622.0 515.0,620.5 522.5,618.0 530.0,612.5 537.5,605.0 546.2,596.2 552.5,590.0 560.0,586.2 570.0,585.0 580.0,585.0 590.0,583.8 602.5,582.5 612.5,583.0 620.0,585.5 627.5,590.0 635.0,592.5 645.0,592.0 655.0,591.2 665.0,591.2 677.5,592.5 687.5,592.0 697.5,591.2 710.0,590.0 720.0,590.5 727.5,593.0 735.0,597.5 742.5,602.5 750.0,607.0 757.5,609.5 765.0,608.8 772.5,606.2 780.0,603.0 787.5,603.8 793.8,606.2 800.0,611.2 806.2,616.2 812.5,618.2 820.0,618.8 827.5,616.2 835.0,613.0 842.0,610.0" fill="none" stroke="#000" stroke-width="1" stroke-dasharray="4 4" />
<rect x="0" y="422" width="1040" height="1" fill="#000"/>
<rect x="0" y="519" width="1040" height="1" fill="#000"/>
<rect x="0" y="571" width="1040" height="1" fill="#000"/>
<rect x="51" y="0" width="1" height="627" fill="#000"/>
<rect x="988" y="0" width="1" height="627" fill="#000"/>
<rect x="44" y="26" width="7" height="1" fill="#000"/>
<rect x="989" y="26" width="8" height="1" fill="#000"/>
<rect x="44" y="46" width="7" height="1" fill="#000"/>
<rect x="989" y="46" width="8" height="1" fill="#000"/>
<rect x="44" y="65" width="7" height="1" fill="#000"/>
<rect x="989" y="65" width="8" height="1" fill="#000"/>
<rect x="44" y="85" width="7" height="1" fill="#000"/>
<rect x="989" y="85" width="8" height="1" fill="#000"/>
<rect x="44" y="105" width="7" height="1" fill="#000"/>
<rect x="989" y="105" width="8" height="1" fill="#000"/>
<rect x="44" y="125" width="7" height="1" fill="#000"/>
<rect x="989" y="125" width="8" height="1" fill="#000"/>
<rect x="44" y="145" width="7" height="1" fill="#000"/>
<rect x="989" y="145" width="8" height="1" fill="#000"/>
<rect x="44" y="164" width="7" height="1" fill="#000"/>
<rect x="989" y="164" width="8" height="1" fill="#000"/>
<rect x="44" y="185" width="7" height="1" fill="#000"/>
<rect x="989" y="185" width="8" height="1" fill="#000"/>
<rect x="44" y="204" width="7" height="1" fill="#000"/>
<rect x="989" y="204" width="8" height="1" fill="#000"/>
<rect x="44" y="225" width="7" height="1" fill="#000"/>
<rect x="989" y="225" width="8" height="1" fill="#000"/>
<rect x="44" y="244" width="7" height="1" fill="#000"/>
<rect x="989" y="244" width="8" height="1" fill="#000"/>
<rect x="44" y="264" width="7" height="1" fill="#000"/>
<rect x="989" y="264" width="8" height="1" fill="#000"/>
<rect x="44" y="284" width="7" height="1" fill="#000"/>
<rect x="989" y="284" width="8" height="1" fill="#000"/>
<rect x="44" y="303" width="7" height="1" fill="#000"/>
<rect x="989" y="303" width="8" height="1" fill="#000"/>
<rect x="44" y="324" width="7" height="1" fill="#000"/>
<rect x="989" y="324" width="8" height="1" fill="#000"/>
<rect x="44" y="6" width="7" height="1" fill="#000"/>
<rect x="989" y="6" width="8" height="1" fill="#000"/>
<rect x="48" y="15" width="3" height="1" fill="#000"/>
<rect x="989" y="15" width="4" height="1" fill="#000"/>
<rect x="48" y="334" width="3" height="1" fill="#000"/>
<rect x="989" y="334" width="4" height="1" fill="#000"/>
<rect x="48" y="36" width="3" height="1" fill="#000"/>
<rect x="989" y="36" width="4" height="1" fill="#000"/>
<rect x="48" y="55" width="3" height="1" fill="#000"/>
<rect x="989" y="55" width="4" height="1" fill="#000"/>
<rect x="48" y="76" width="3" height="1" fill="#000"/>
<rect x="989" y="76" width="4" height="1" fill="#000"/>
<rect x="48" y="95" width="3" height="1" fill="#000"/>
<rect x="989" y="95" width="4" height="1" fill="#000"/>
<rect x="48" y="115" width="3" height="1" fill="#000"/>
<rect x="989" y="115" width="4" height="1" fill="#000"/>
<rect x="48" y="135" width="3" height="1" fill="#000"/>
<rect x="989" y="135" width="4" height="1" fill="#000"/>
<rect x="48" y="154" width="3" height="1" fill="#000"/>
<rect x="989" y="154" width="4" height="1" fill="#000"/>
<rect x="48" y="174" width="3" height="1" fill="#000"/>
<rect x="989" y="174" width="4" height="1" fill="#000"/>
<rect x="48" y="194" width="3" height="1" fill="#000"/>
<rect x="989" y="194" width="4" height="1" fill="#000"/>
<rect x="48" y="214" width="3" height="1" fill="#000"/>
<rect x="989" y="214" width="4" height="1" fill="#000"/>
<rect x="48" y="234" width="3" height="1" fill="#000"/>
<rect x="989" y="234" width="4" height="1" fill="#000"/>
<rect x="48" y="254" width="3" height="1" fill="#000"/>
<rect x="989" y="254" width="4" height="1" fill="#000"/>
<rect x="48" y="274" width="3" height="1" fill="#000"/>
<rect x="989" y="274" width="4" height="1" fill="#000"/>
<rect x="48" y="293" width="3" height="1" fill="#000"/>
<rect x="989" y="293" width="4" height="1" fill="#000"/>
<rect x="48" y="313" width="3" height="1" fill="#000"/>
<rect x="989" y="313" width="4" height="1" fill="#000"/>
<text x="40" y="30.5" font-size="12" text-anchor="end" fill="#000" letter-spacing="0.5">5.3</text>
<text x="1036.5" y="30.5" font-size="12" text-anchor="end" fill="#000" letter-spacing="0.5">5.3</text>
<text x="40" y="50.5" font-size="12" text-anchor="end" fill="#000" letter-spacing="0.5">5.2</text>
<text x="1036.5" y="50.5" font-size="12" text-anchor="end" fill="#000" letter-spacing="0.5">5.2</text>
<text x="40" y="69.5" font-size="12" text-anchor="end" fill="#000" letter-spacing="0.5">5.1</text>
<text x="1036.5" y="69.5" font-size="12" text-anchor="end" fill="#000" letter-spacing="0.5">5.1</text>
<text x="40" y="89.5" font-size="12" text-anchor="end" fill="#000" letter-spacing="0.5">5.0</text>
<text x="1036.5" y="89.5" font-size="12" text-anchor="end" fill="#000" letter-spacing="0.5">5.0</text>
<text x="40" y="109.5" font-size="12" text-anchor="end" fill="#000" letter-spacing="0.5">4.9</text>
<text x="1036.5" y="109.5" font-size="12" text-anchor="end" fill="#000" letter-spacing="0.5">4.9</text>
<text x="40" y="129.5" font-size="12" text-anchor="end" fill="#000" letter-spacing="0.5">4.8</text>
<text x="1036.5" y="129.5" font-size="12" text-anchor="end" fill="#000" letter-spacing="0.5">4.8</text>
<text x="40" y="149.5" font-size="12" text-anchor="end" fill="#000" letter-spacing="0.5">4.7</text>
<text x="1036.5" y="149.5" font-size="12" text-anchor="end" fill="#000" letter-spacing="0.5">4.7</text>
<text x="40" y="168.5" font-size="12" text-anchor="end" fill="#000" letter-spacing="0.5">4.6</text>
<text x="1036.5" y="168.5" font-size="12" text-anchor="end" fill="#000" letter-spacing="0.5">4.6</text>
<text x="40" y="189.5" font-size="12" text-anchor="end" fill="#000" letter-spacing="0.5">4.5</text>
<text x="1036.5" y="189.5" font-size="12" text-anchor="end" fill="#000" letter-spacing="0.5">4.5</text>
<text x="40" y="208.5" font-size="12" text-anchor="end" fill="#000" letter-spacing="0.5">4.4</text>
<text x="1036.5" y="208.5" font-size="12" text-anchor="end" fill="#000" letter-spacing="0.5">4.4</text>
<text x="40" y="229.5" font-size="12" text-anchor="end" fill="#000" letter-spacing="0.5">4.3</text>
<text x="1036.5" y="229.5" font-size="12" text-anchor="end" fill="#000" letter-spacing="0.5">4.3</text>
<text x="40" y="248.5" font-size="12" text-anchor="end" fill="#000" letter-spacing="0.5">4.2</text>
<text x="1036.5" y="248.5" font-size="12" text-anchor="end" fill="#000" letter-spacing="0.5">4.2</text>
<text x="40" y="268.5" font-size="12" text-anchor="end" fill="#000" letter-spacing="0.5">4.1</text>
<text x="1036.5" y="268.5" font-size="12" text-anchor="end" fill="#000" letter-spacing="0.5">4.1</text>
<text x="40" y="288.5" font-size="12" text-anchor="end" fill="#000" letter-spacing="0.5">4.0</text>
<text x="1036.5" y="288.5" font-size="12" text-anchor="end" fill="#000" letter-spacing="0.5">4.0</text>
<text x="40" y="307.5" font-size="12" text-anchor="end" fill="#000" letter-spacing="0.5">3.9</text>
<text x="1036.5" y="307.5" font-size="12" text-anchor="end" fill="#000" letter-spacing="0.5">3.9</text>
<text x="40" y="328.5" font-size="12" text-anchor="end" fill="#000" letter-spacing="0.5">3.8</text>
<text x="1036.5" y="328.5" font-size="12" text-anchor="end" fill="#000" letter-spacing="0.5">3.8</text>
<rect x="48" y="402" width="3" height="1" fill="#000"/>
<rect x="989" y="402" width="4" height="1" fill="#000"/>
<rect x="48" y="395" width="3" height="1" fill="#000"/>
<rect x="989" y="395" width="4" height="1" fill="#000"/>
<rect x="44" y="388" width="7" height="1" fill="#000"/>
<rect x="989" y="388" width="8" height="1" fill="#000"/>
<rect x="48" y="382" width="3" height="1" fill="#000"/>
<rect x="989" y="382" width="4" height="1" fill="#000"/>
<rect x="48" y="375" width="3" height="1" fill="#000"/>
<rect x="989" y="375" width="4" height="1" fill="#000"/>
<rect x="48" y="368" width="3" height="1" fill="#000"/>
<rect x="989" y="368" width="4" height="1" fill="#000"/>
<rect x="48" y="361" width="3" height="1" fill="#000"/>
<rect x="989" y="361" width="4" height="1" fill="#000"/>
<rect x="44" y="355" width="7" height="1" fill="#000"/>
<rect x="989" y="355" width="8" height="1" fill="#000"/>
<rect x="48" y="348" width="3" height="1" fill="#000"/>
<rect x="989" y="348" width="4" height="1" fill="#000"/>
<rect x="44" y="341" width="7" height="1" fill="#000"/>
<rect x="989" y="341" width="8" height="1" fill="#000"/>
<text x="40" y="359.5" font-size="12" text-anchor="end" fill="#000" letter-spacing="0.5">10000</text>
<text x="1036.5" y="359.5" font-size="12" text-anchor="end" fill="#000" letter-spacing="0.5">10000</text>
<text x="40" y="393.5" font-size="12" text-anchor="end" fill="#000" letter-spacing="0.5">5000</text>
<text x="1036.5" y="393.5" font-size="12" text-anchor="end" fill="#000" letter-spacing="0.5">5000</text>
<rect x="2.5" y="409.5" width="29" height="13" fill="#fff" stroke="#000" stroke-width="1"/>
<text x="4.5" y="419.3" font-size="9.4" text-anchor="start" fill="#000" >x1000</text>
<rect x="989.5" y="409.5" width="30" height="13" fill="#fff" stroke="#000" stroke-width="1"/>
<text x="992.5" y="419.3" font-size="9.4" text-anchor="start" fill="#000" >x1000</text>
<rect x="48" y="516" width="3" height="1" fill="#000"/>
<rect x="989" y="516" width="4" height="1" fill="#000"/>
<rect x="48" y="513" width="3" height="1" fill="#000"/>
<rect x="989" y="513" width="4" height="1" fill="#000"/>
<rect x="48" y="510" width="3" height="1" fill="#000"/>
<rect x="989" y="510" width="4" height="1" fill="#000"/>
<rect x="48" y="507" width="3" height="1" fill="#000"/>
<rect x="989" y="507" width="4" height="1" fill="#000"/>
<rect x="44" y="504" width="7" height="1" fill="#000"/>
<rect x="989" y="504" width="8" height="1" fill="#000"/>
<rect x="48" y="501" width="3" height="1" fill="#000"/>
<rect x="989" y="501" width="4" height="1" fill="#000"/>
<rect x="48" y="498" width="3" height="1" fill="#000"/>
<rect x="989" y="498" width="4" height="1" fill="#000"/>
<rect x="48" y="495" width="3" height="1" fill="#000"/>
<rect x="989" y="495" width="4" height="1" fill="#000"/>
<rect x="48" y="492" width="3" height="1" fill="#000"/>
<rect x="989" y="492" width="4" height="1" fill="#000"/>
<rect x="44" y="490" width="7" height="1" fill="#000"/>
<rect x="989" y="490" width="8" height="1" fill="#000"/>
<rect x="48" y="487" width="3" height="1" fill="#000"/>
<rect x="989" y="487" width="4" height="1" fill="#000"/>
<rect x="48" y="484" width="3" height="1" fill="#000"/>
<rect x="989" y="484" width="4" height="1" fill="#000"/>
<rect x="48" y="481" width="3" height="1" fill="#000"/>
<rect x="989" y="481" width="4" height="1" fill="#000"/>
<rect x="48" y="478" width="3" height="1" fill="#000"/>
<rect x="989" y="478" width="4" height="1" fill="#000"/>
<rect x="44" y="475" width="7" height="1" fill="#000"/>
<rect x="989" y="475" width="8" height="1" fill="#000"/>
<rect x="48" y="472" width="3" height="1" fill="#000"/>
<rect x="989" y="472" width="4" height="1" fill="#000"/>
<rect x="48" y="469" width="3" height="1" fill="#000"/>
<rect x="989" y="469" width="4" height="1" fill="#000"/>
<rect x="48" y="466" width="3" height="1" fill="#000"/>
<rect x="989" y="466" width="4" height="1" fill="#000"/>
<rect x="48" y="463" width="3" height="1" fill="#000"/>
<rect x="989" y="463" width="4" height="1" fill="#000"/>
<rect x="44" y="460" width="7" height="1" fill="#000"/>
<rect x="989" y="460" width="8" height="1" fill="#000"/>
<rect x="48" y="457" width="3" height="1" fill="#000"/>
<rect x="989" y="457" width="4" height="1" fill="#000"/>
<rect x="48" y="454" width="3" height="1" fill="#000"/>
<rect x="989" y="454" width="4" height="1" fill="#000"/>
<rect x="48" y="452" width="3" height="1" fill="#000"/>
<rect x="989" y="452" width="4" height="1" fill="#000"/>
<rect x="48" y="449" width="3" height="1" fill="#000"/>
<rect x="989" y="449" width="4" height="1" fill="#000"/>
<rect x="44" y="446" width="7" height="1" fill="#000"/>
<rect x="989" y="446" width="8" height="1" fill="#000"/>
<rect x="48" y="443" width="3" height="1" fill="#000"/>
<rect x="989" y="443" width="4" height="1" fill="#000"/>
<rect x="48" y="440" width="3" height="1" fill="#000"/>
<rect x="989" y="440" width="4" height="1" fill="#000"/>
<rect x="48" y="437" width="3" height="1" fill="#000"/>
<rect x="989" y="437" width="4" height="1" fill="#000"/>
<rect x="48" y="434" width="3" height="1" fill="#000"/>
<rect x="989" y="434" width="4" height="1" fill="#000"/>
<rect x="44" y="431" width="7" height="1" fill="#000"/>
<rect x="989" y="431" width="8" height="1" fill="#000"/>
<text x="40" y="437.1" font-size="12" text-anchor="end" fill="#000" letter-spacing="0.5">0.15</text>
<text x="1036.5" y="437.1" font-size="12" text-anchor="end" fill="#000" letter-spacing="0.5">0.15</text>
<text x="40" y="452.1" font-size="12" text-anchor="end" fill="#000" letter-spacing="0.5">0.10</text>
<text x="1036.5" y="452.1" font-size="12" text-anchor="end" fill="#000" letter-spacing="0.5">0.10</text>
<text x="40" y="466.1" font-size="12" text-anchor="end" fill="#000" letter-spacing="0.5">0.05</text>
<text x="1036.5" y="466.1" font-size="12" text-anchor="end" fill="#000" letter-spacing="0.5">0.05</text>
<text x="40" y="481.1" font-size="12" text-anchor="end" fill="#000" letter-spacing="0.5">0.00</text>
<text x="1036.5" y="481.1" font-size="12" text-anchor="end" fill="#000" letter-spacing="0.5">0.00</text>
<text x="40" y="496.1" font-size="12" text-anchor="end" fill="#000" letter-spacing="0.5">-0.05</text>
<text x="1036.5" y="496.1" font-size="12" text-anchor="end" fill="#000" letter-spacing="0.5">-0.05</text>
<text x="40" y="510.1" font-size="12" text-anchor="end" fill="#000" letter-spacing="0.5">-0.10</text>
<text x="1036.5" y="510.1" font-size="12" text-anchor="end" fill="#000" letter-spacing="0.5">-0.10</text>
<rect x="48" y="563" width="3" height="1" fill="#000"/>
<rect x="989" y="563" width="4" height="1" fill="#000"/>
<rect x="48" y="554" width="3" height="1" fill="#000"/>
<rect x="989" y="554" width="4" height="1" fill="#000"/>
<rect x="44" y="546" width="7" height="1" fill="#000"/>
<rect x="989" y="546" width="8" height="1" fill="#000"/>
<rect x="48" y="537" width="3" height="1" fill="#000"/>
<rect x="989" y="537" width="4" height="1" fill="#000"/>
<rect x="48" y="529" width="3" height="1" fill="#000"/>
<rect x="989" y="529" width="4" height="1" fill="#000"/>
<text x="40" y="550.5" font-size="12" text-anchor="end" fill="#000" letter-spacing="0.5">50</text>
<text x="1036.5" y="550.5" font-size="12" text-anchor="end" fill="#000" letter-spacing="0.5">50</text>
<rect x="48" y="626" width="3" height="1" fill="#000"/>
<rect x="989" y="626" width="4" height="1" fill="#000"/>
<rect x="48" y="621" width="3" height="1" fill="#000"/>
<rect x="989" y="621" width="4" height="1" fill="#000"/>
<rect x="48" y="615" width="3" height="1" fill="#000"/>
<rect x="989" y="615" width="4" height="1" fill="#000"/>
<rect x="48" y="610" width="3" height="1" fill="#000"/>
<rect x="989" y="610" width="4" height="1" fill="#000"/>
<rect x="48" y="604" width="3" height="1" fill="#000"/>
<rect x="989" y="604" width="4" height="1" fill="#000"/>
<rect x="44" y="599" width="7" height="1" fill="#000"/>
<rect x="989" y="599" width="8" height="1" fill="#000"/>
<rect x="48" y="593" width="3" height="1" fill="#000"/>
<rect x="989" y="593" width="4" height="1" fill="#000"/>
<rect x="48" y="588" width="3" height="1" fill="#000"/>
<rect x="989" y="588" width="4" height="1" fill="#000"/>
<rect x="48" y="582" width="3" height="1" fill="#000"/>
<rect x="989" y="582" width="4" height="1" fill="#000"/>
<rect x="48" y="577" width="3" height="1" fill="#000"/>
<rect x="989" y="577" width="4" height="1" fill="#000"/>
<rect x="48" y="571" width="3" height="1" fill="#000"/>
<rect x="989" y="571" width="4" height="1" fill="#000"/>
<text x="40" y="604.5" font-size="12" text-anchor="end" fill="#000" letter-spacing="0.5">50</text>
<text x="1036.5" y="604.5" font-size="12" text-anchor="end" fill="#000" letter-spacing="0.5">50</text>
<rect x="44" y="572" width="7" height="1" fill="#000"/>
<rect x="989" y="572" width="8" height="1" fill="#000"/>
<rect x="53" y="627" width="936" height="1" fill="#000"/>
<rect x="53" y="644" width="936" height="1" fill="#000"/>
<rect x="53" y="627" width="1" height="18" fill="#000"/>
<text x="57" y="640" font-size="12" text-anchor="start" fill="#000" >11</text>
<rect x="78" y="627" width="1" height="18" fill="#000"/>
<text x="82" y="640" font-size="12" text-anchor="start" fill="#000" >18</text>
<rect x="108" y="627" width="1" height="18" fill="#000"/>
<text x="112" y="640" font-size="12" text-anchor="start" fill="#000" >25</text>
<rect x="133" y="627" width="1" height="18" fill="#000"/>
<text x="137" y="640" font-size="12" text-anchor="start" fill="#000" >4</text>
<rect x="163" y="627" width="1" height="18" fill="#000"/>
<text x="167" y="640" font-size="12" text-anchor="start" fill="#000" >11</text>
<rect x="193" y="627" width="1" height="18" fill="#000"/>
<text x="197" y="640" font-size="12" text-anchor="start" fill="#000" >18</text>
<rect x="223" y="627" width="1" height="18" fill="#000"/>
<text x="227" y="640" font-size="12" text-anchor="start" fill="#000" >25</text>
<rect x="253" y="627" width="1" height="18" fill="#000"/>
<text x="257" y="640" font-size="12" text-anchor="start" fill="#000" >1</text>
<rect x="284" y="627" width="1" height="18" fill="#000"/>
<text x="288" y="640" font-size="12" text-anchor="start" fill="#000" >8</text>
<rect x="314" y="627" width="1" height="18" fill="#000"/>
<text x="318" y="640" font-size="12" text-anchor="start" fill="#000" >15</text>
<rect x="344" y="627" width="1" height="18" fill="#000"/>
<text x="348" y="640" font-size="12" text-anchor="start" fill="#000" >22</text>
<rect x="374" y="627" width="1" height="18" fill="#000"/>
<text x="378" y="640" font-size="12" text-anchor="start" fill="#000" >29</text>
<rect x="404" y="627" width="1" height="18" fill="#000"/>
<text x="408" y="640" font-size="12" text-anchor="start" fill="#000" >6</text>
<rect x="435" y="627" width="1" height="18" fill="#000"/>
<text x="439" y="640" font-size="12" text-anchor="start" fill="#000" >13</text>
<rect x="465" y="627" width="1" height="18" fill="#000"/>
<text x="469" y="640" font-size="12" text-anchor="start" fill="#000" >20</text>
<rect x="495" y="627" width="1" height="18" fill="#000"/>
<text x="499" y="640" font-size="12" text-anchor="start" fill="#000" >27</text>
<rect x="525" y="627" width="1" height="18" fill="#000"/>
<text x="529" y="640" font-size="12" text-anchor="start" fill="#000" >3</text>
<rect x="537" y="627" width="1" height="18" fill="#000"/>
<rect x="568" y="627" width="1" height="18" fill="#000"/>
<text x="572" y="640" font-size="12" text-anchor="start" fill="#000" >17</text>
<rect x="598" y="627" width="1" height="18" fill="#000"/>
<text x="602" y="640" font-size="12" text-anchor="start" fill="#000" >24</text>
<rect x="628" y="627" width="1" height="18" fill="#000"/>
<text x="632" y="640" font-size="12" text-anchor="start" fill="#000" >1</text>
<rect x="658" y="627" width="1" height="18" fill="#000"/>
<text x="662" y="640" font-size="12" text-anchor="start" fill="#000" >8</text>
<rect x="688" y="627" width="1" height="18" fill="#000"/>
<text x="692" y="640" font-size="12" text-anchor="start" fill="#000" >15</text>
<rect x="719" y="627" width="1" height="18" fill="#000"/>
<text x="723" y="640" font-size="12" text-anchor="start" fill="#000" >22</text>
<rect x="749" y="627" width="1" height="18" fill="#000"/>
<text x="753" y="640" font-size="12" text-anchor="start" fill="#000" >29</text>
<rect x="779" y="627" width="1" height="18" fill="#000"/>
<text x="783" y="640" font-size="12" text-anchor="start" fill="#000" >5</text>
<rect x="803" y="627" width="1" height="18" fill="#000"/>
<text x="807" y="640" font-size="12" text-anchor="start" fill="#000" >14</text>
<rect x="821" y="627" width="1" height="18" fill="#000"/>
<text x="825" y="640" font-size="12" text-anchor="start" fill="#000" >19</text>
<rect x="851" y="627" width="1" height="18" fill="#000"/>
<text x="855" y="640" font-size="12" text-anchor="start" fill="#000" >26</text>
<rect x="882" y="627" width="1" height="18" fill="#000"/>
<text x="886" y="640" font-size="12" text-anchor="start" fill="#000" >2</text>
<rect x="912" y="627" width="1" height="18" fill="#000"/>
<text x="916" y="640" font-size="12" text-anchor="start" fill="#000" >9</text>
<rect x="943" y="627" width="1" height="18" fill="#000"/>
<text x="947" y="640" font-size="12" text-anchor="start" fill="#000" >16</text>
<rect x="972" y="627" width="1" height="18" fill="#000"/>
<text x="976" y="640" font-size="12" text-anchor="start" fill="#000" >23</text>
<text x="53" y="656" font-size="12" text-anchor="start" fill="#000" >ary</text>
<rect x="133" y="627" width="1" height="32" fill="#000"/>
<text x="136" y="656" font-size="12" text-anchor="start" fill="#000" >March</text>
<rect x="253" y="627" width="1" height="32" fill="#000"/>
<text x="256" y="656" font-size="12" text-anchor="start" fill="#000" >April</text>
<rect x="387" y="627" width="1" height="32" fill="#000"/>
<text x="390" y="656" font-size="12" text-anchor="start" fill="#000" >May</text>
<rect x="519" y="627" width="1" height="32" fill="#000"/>
<text x="522" y="656" font-size="12" text-anchor="start" fill="#000" >June</text>
<rect x="628" y="627" width="1" height="32" fill="#000"/>
<text x="631" y="656" font-size="12" text-anchor="start" fill="#000" >July</text>
<rect x="767" y="627" width="1" height="32" fill="#000"/>
<text x="770" y="656" font-size="12" text-anchor="start" fill="#000" >August</text>
<rect x="882" y="627" width="1" height="32" fill="#000"/>
<text x="885" y="656" font-size="12" text-anchor="start" fill="#000" >September</text>
<rect x="44" y="626" width="8" height="1" fill="#000"/>
<rect x="988" y="626" width="9" height="1" fill="#000"/>
<text x="416.5" y="15" font-size="12" text-anchor="start" fill="#000" textLength="265" lengthAdjust="spacing">)4.41000, 4.41000, 4.35000, 4.39000, -0.05000)</text>
<text x="473" y="437" font-size="12" text-anchor="start" fill="#000" textLength="94.5" lengthAdjust="spacing">MACD (-0.08854)</text>
<text x="428.5" y="534" font-size="12" text-anchor="start" fill="#000" textLength="185" lengthAdjust="spacing">Relative Strength Index (42.7571)</text>
<text x="435.5" y="587" font-size="12" text-anchor="start" fill="#000" textLength="171" lengthAdjust="spacing">Stochastic Oscillator (43.9746)</text>
<text x="386.5" y="13.2" font-size="10" text-anchor="middle" fill="#000" direction="rtl" style="font-family:'Liberation Sans','DejaVu Sans',sans-serif" shape-rendering="auto">البنك التجاري</text>
<defs><filter id="wb" x="-5%" y="-20%" width="110%" height="140%"><feGaussianBlur stdDeviation="0.7"/></filter></defs>
<g shape-rendering="auto" filter="url(#wb)" fill="none">
<rect x="231" y="421" width="9" height="3" fill="#fff"/>
<path d="M53.00,439.85 L72.70,439.85 A9.85,10.3 0 1 0 70.61,446.19 M100.43,433.51 A11.2,10.3 0 1 0 100.43,446.19 M106.80,439.85 A11.35,10.3 0 1 0 129.50,439.85 A11.35,10.3 0 1 0 106.80,439.85 M137.9,426.95 V452.75 M137.9,438.70 A9.15,9.15 0 0 1 156.2,438.70 V452.75 M164.80,439.85 A11.45,10.3 0 1 0 187.70,439.85 A11.45,10.3 0 1 0 164.80,439.85 M196.1,426.95 V452.75 M196.1,437.20 A7.65,7.65 0 0 1 211.4,437.20 V452.75 M211.4,437.27 A7.72,7.72 0 0 1 226.85,437.27 V452.75 M235.5,426.95 V452.75 M245.00,439.85 L265.40,439.85 A10.2,10.3 0 1 0 263.24,446.19 M289.8,433.6 C287.8,427.9 274.4,427.6 273.6,434 C272.9,441.6 290.4,438.2 289.9,446.4 C289.2,452.6 274.6,452.2 272.0,445.4" stroke="#fff" stroke-width="7.800000000000001" opacity="0.85"/>
<path d="M53.00,439.85 L72.70,439.85 A9.85,10.3 0 1 0 70.61,446.19 M100.43,433.51 A11.2,10.3 0 1 0 100.43,446.19 M106.80,439.85 A11.35,10.3 0 1 0 129.50,439.85 A11.35,10.3 0 1 0 106.80,439.85 M137.9,426.95 V452.75 M137.9,438.70 A9.15,9.15 0 0 1 156.2,438.70 V452.75 M164.80,439.85 A11.45,10.3 0 1 0 187.70,439.85 A11.45,10.3 0 1 0 164.80,439.85 M196.1,426.95 V452.75 M196.1,437.20 A7.65,7.65 0 0 1 211.4,437.20 V452.75 M211.4,437.27 A7.72,7.72 0 0 1 226.85,437.27 V452.75 M235.5,426.95 V452.75 M245.00,439.85 L265.40,439.85 A10.2,10.3 0 1 0 263.24,446.19 M289.8,433.6 C287.8,427.9 274.4,427.6 273.6,434 C272.9,441.6 290.4,438.2 289.9,446.4 C289.2,452.6 274.6,452.2 272.0,445.4" stroke="#fdd8c0" stroke-width="5.2"/>
<circle cx="235.5" cy="421.2" r="2.9" fill="#fdd8c0"/>
<path d="M322.79,431.10 A10.6,10.9 0 1 0 322.79,447.30 M329.40,439.2 A11.75,10.9 0 1 0 352.90,439.2 A11.75,10.9 0 1 0 329.40,439.2 M358.6,427.30 V451.35 M358.6,435.98 A7.67,7.67 0 0 1 373.95,435.98 V451.35 M373.95,436.08 A7.78,7.78 0 0 1 389.5,436.08 V451.35" stroke="#fff" stroke-width="6.5" opacity="0.85"/>
<path d="M322.79,431.10 A10.6,10.9 0 1 0 322.79,447.30 M329.40,439.2 A11.75,10.9 0 1 0 352.90,439.2 A11.75,10.9 0 1 0 329.40,439.2 M358.6,427.30 V451.35 M358.6,435.98 A7.67,7.67 0 0 1 373.95,435.98 V451.35 M373.95,436.08 A7.78,7.78 0 0 1 389.5,436.08 V451.35" stroke="#d9d9d9" stroke-width="2.5"/>
<circle cx="299.2" cy="449" r="2" fill="#d9d9d9"/>
<text x="86" y="491" font-size="41" font-weight="bold" fill="#fff" stroke="#fff" stroke-width="3" stroke-linejoin="round" opacity="0.85" textLength="26" lengthAdjust="spacingAndGlyphs">F</text>
<text x="133.2" y="491" font-size="41" font-weight="bold" fill="#fff" stroke="#fff" stroke-width="3" stroke-linejoin="round" opacity="0.85" textLength="36.5" lengthAdjust="spacingAndGlyphs">N</text>
<text x="168" y="491" font-size="45" font-weight="normal" fill="#fff" stroke="#fff" stroke-width="3" stroke-linejoin="round" opacity="0.85" textLength="66.5" lengthAdjust="spacingAndGlyphs">ews</text>
<text x="234.4" y="491" font-size="41" font-weight="bold" fill="#fff" stroke="#fff" stroke-width="3" stroke-linejoin="round" opacity="0.85" textLength="28" lengthAdjust="spacingAndGlyphs">T</text>
<text x="259.3" y="491" font-size="45" font-weight="normal" fill="#fff" stroke="#fff" stroke-width="3" stroke-linejoin="round" opacity="0.85" textLength="86.5" lengthAdjust="spacingAndGlyphs">oday</text>
<text x="86" y="491" font-size="41" font-weight="bold" fill="#dedede" stroke="none" textLength="26" lengthAdjust="spacingAndGlyphs">F</text>
<text x="133.2" y="491" font-size="41" font-weight="bold" fill="#dedede" stroke="none" textLength="36.5" lengthAdjust="spacingAndGlyphs">N</text>
<text x="168" y="491" font-size="45" font-weight="normal" fill="#e1e1e1" stroke="#e1e1e1" stroke-width="0.9" textLength="66.5" lengthAdjust="spacingAndGlyphs">ews</text>
<text x="234.4" y="491" font-size="41" font-weight="bold" fill="#dedede" stroke="none" textLength="28" lengthAdjust="spacingAndGlyphs">T</text>
<text x="259.3" y="491" font-size="45" font-weight="normal" fill="#e1e1e1" stroke="#e1e1e1" stroke-width="0.9" textLength="86.5" lengthAdjust="spacingAndGlyphs">oday</text>
<path d="M114.5,469 L123.5,478.5 L133,469.5" stroke="#f3d2d2" stroke-width="3.6"/>
<path d="M113.5,490.5 L124,480 L135,490.5" stroke="#d3e8d3" stroke-width="3.6"/>
</g>
</svg>
</body></html>
